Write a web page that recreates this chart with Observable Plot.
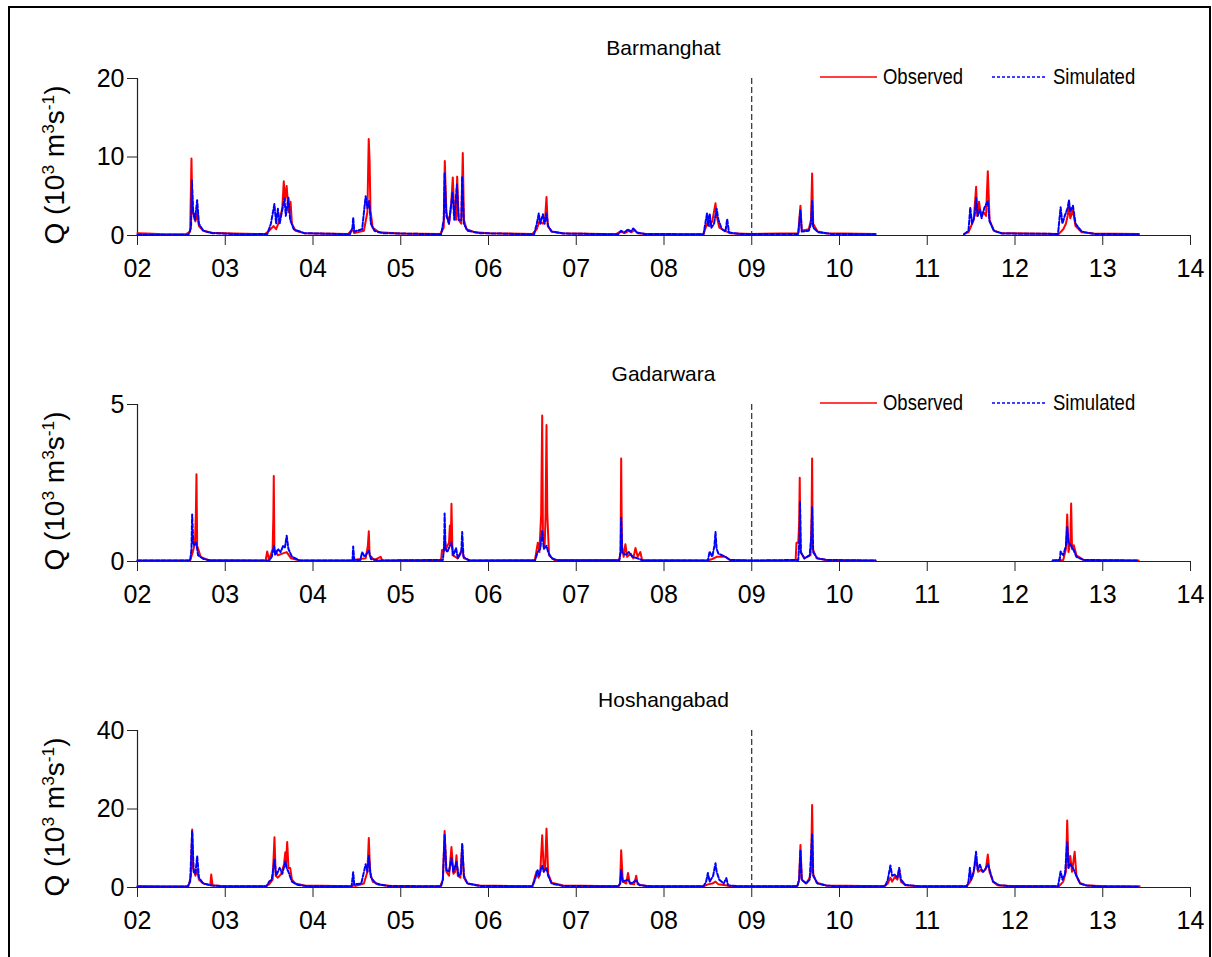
<!DOCTYPE html>
<html><head><meta charset="utf-8">
<script src="https://cdn.jsdelivr.net/npm/d3@7"></script>
<script src="https://cdn.jsdelivr.net/npm/@observablehq/plot@0.6"></script>
<style>
body{margin:0;background:#fff;}
#wrap{position:relative;width:1212px;height:957px;overflow:hidden;font-family:Arial,"Liberation Sans",sans-serif;color:#000;}
#border{position:absolute;left:8px;top:6px;width:1203px;height:1100px;border:2px solid #000;box-sizing:border-box;}
.panel{position:absolute;left:0;width:1212px;height:326px;}
.panel > svg{position:absolute;left:0;top:0;overflow:visible;}
.title{position:absolute;left:137px;width:1053px;text-align:center;font-size:21px;line-height:21px;top:37px;}
.ylab{position:absolute;left:55px;top:165px;transform:translate(-50%,-50%) rotate(-90deg);white-space:nowrap;font-size:28px;line-height:28px;}
.ylab sup{font-size:0.62em;vertical-align:0.6em;line-height:0;}
.lg{position:absolute;top:64px;height:26px;line-height:26px;font-size:22px;white-space:nowrap;}
.lg.txt{transform:scaleX(0.84);transform-origin:0 50%;}
.lg svg{display:block;margin-top:8px;}
</style>
</head><body>
<div id="wrap"><div id="border"></div></div>
<script>
// ---- data ----
const stations = ["Barmanghat", "Gadarwara", "Hoshangabad"];
const xTicks = [2002,2003,2004,2005,2006,2007,2008,2009,2010,2011,2012,2013,2014];
const xLabels = ["02","03","04","05","06","07","08","09","10","11","12","13","14"];
const splitYear = 2009;
const yMax = [20, 5, 40];
const yTicks = [[0,10,20],[0,5],[0,20,40]];
const legendLabels = ["Observed", "Simulated"];

const barmanghatObs = [[2002.00,0.3],[2002.10,0.25],[2002.30,0.15],[2002.55,0.15],[2002.60,0.5],[2002.615,9.8],[2002.625,3.5],[2002.64,2.5],[2002.66,1.8],[2002.68,2.8],[2002.70,1.2],[2002.75,0.6],[2002.85,0.35],[2003.10,0.25],[2003.45,0.15],[2003.50,0.6],[2003.55,1.2],[2003.58,0.8],[2003.62,2.0],[2003.65,3.5],[2003.667,6.9],[2003.68,4.5],[2003.70,6.3],[2003.72,3.0],[2003.744,4.3],[2003.76,1.5],[2003.80,0.6],[2003.90,0.3],[2004.40,0.2],[2004.45,0.8],[2004.47,0.3],[2004.58,0.6],[2004.62,3.0],[2004.635,12.3],[2004.645,9.5],[2004.655,3.2],[2004.68,1.0],[2004.75,0.4],[2005.00,0.25],[2005.45,0.2],[2005.49,1.0],[2005.502,9.5],[2005.52,3.0],[2005.55,1.5],[2005.575,4.0],[2005.593,7.4],[2005.61,2.5],[2005.63,2.0],[2005.643,7.5],[2005.66,2.0],[2005.69,1.5],[2005.707,10.5],[2005.72,2.0],[2005.75,0.8],[2005.85,0.4],[2006.00,0.3],[2006.50,0.2],[2006.55,0.8],[2006.58,1.8],[2006.62,1.5],[2006.645,2.2],[2006.661,4.9],[2006.675,1.2],[2006.72,0.5],[2006.85,0.3],[2007.45,0.15],[2007.50,0.5],[2007.55,0.3],[2007.60,0.6],[2007.63,0.4],[2007.66,0.7],[2007.70,0.3],[2007.80,0.2],[2008.45,0.15],[2008.49,1.5],[2008.52,1.2],[2008.55,1.8],[2008.587,4.1],[2008.60,2.5],[2008.63,1.0],[2008.70,0.6],[2008.75,0.3],[2009.00,0.2],[2009.53,0.3],[2009.555,3.8],[2009.57,0.6],[2009.65,0.8],[2009.675,2.0],[2009.688,7.9],[2009.70,1.5],[2009.75,0.5],[2009.85,0.3],[2010.41,0.2],[2010.42,null],[2011.41,null],[2011.42,0.2],[2011.47,0.4],[2011.50,1.2],[2011.53,2.0],[2011.557,6.2],[2011.57,2.5],[2011.59,4.3],[2011.61,2.8],[2011.64,3.0],[2011.67,2.5],[2011.69,8.2],[2011.71,2.0],[2011.76,0.6],[2011.85,0.3],[2012.50,0.2],[2012.55,0.8],[2012.58,1.5],[2012.60,2.5],[2012.615,3.8],[2012.63,2.2],[2012.66,3.2],[2012.69,1.2],[2012.76,0.4],[2012.90,0.25],[2013.41,0.2]];
const barmanghatSim = [[2002.00,0.1],[2002.58,0.1],[2002.61,1.0],[2002.62,7.0],[2002.635,3.0],[2002.655,2.0],[2002.68,4.5],[2002.70,1.5],[2002.75,0.6],[2002.85,0.3],[2003.20,0.15],[2003.48,0.2],[2003.52,1.5],[2003.56,4.0],[2003.58,1.5],[2003.60,3.4],[2003.62,1.5],[2003.645,3.0],[2003.675,4.7],[2003.69,2.5],[2003.72,4.8],[2003.74,2.0],[2003.78,0.8],[2003.90,0.3],[2004.42,0.15],[2004.45,1.0],[2004.458,2.3],[2004.47,0.5],[2004.56,0.8],[2004.60,5.0],[2004.62,3.5],[2004.64,4.4],[2004.66,1.5],[2004.70,0.6],[2004.80,0.3],[2005.46,0.15],[2005.49,2.0],[2005.50,8.0],[2005.52,2.5],[2005.55,1.5],[2005.59,5.5],[2005.61,2.0],[2005.64,6.5],[2005.66,2.0],[2005.69,2.0],[2005.70,7.5],[2005.72,1.5],[2005.76,0.6],[2005.90,0.3],[2006.52,0.15],[2006.55,1.5],[2006.573,2.8],[2006.59,1.5],[2006.62,2.7],[2006.64,1.5],[2006.66,2.8],[2006.68,1.2],[2006.72,0.5],[2006.85,0.25],[2007.48,0.15],[2007.51,0.6],[2007.55,0.4],[2007.59,0.8],[2007.62,0.5],[2007.65,0.9],[2007.69,0.4],[2007.78,0.2],[2008.45,0.15],[2008.49,2.8],[2008.505,1.2],[2008.52,2.8],[2008.54,1.0],[2008.57,1.5],[2008.60,3.4],[2008.62,2.0],[2008.66,0.8],[2008.70,0.5],[2008.72,2.1],[2008.74,0.4],[2008.85,0.2],[2009.53,0.2],[2009.555,3.2],[2009.57,0.5],[2009.65,0.6],[2009.675,1.5],[2009.688,4.4],[2009.70,1.0],[2009.76,0.4],[2009.90,0.2],[2010.41,0.15],[2010.42,null],[2011.41,null],[2011.42,0.15],[2011.47,0.6],[2011.49,3.6],[2011.51,1.5],[2011.54,2.5],[2011.557,4.8],[2011.575,2.5],[2011.60,3.3],[2011.62,2.2],[2011.65,3.5],[2011.69,4.4],[2011.71,1.8],[2011.76,0.6],[2011.85,0.25],[2012.49,0.2],[2012.52,3.6],[2012.54,1.5],[2012.57,2.6],[2012.60,3.5],[2012.615,4.5],[2012.63,3.0],[2012.66,3.8],[2012.69,1.5],[2012.76,0.5],[2012.90,0.2],[2013.41,0.15]];

const gadarwaraObs = [[2002.00,0.03],[2002.60,0.03],[2002.63,0.3],[2002.655,0.6],[2002.665,1.5],[2002.672,2.78],[2002.68,0.5],[2002.72,0.15],[2002.80,0.05],[2003.46,0.03],[2003.478,0.32],[2003.50,0.05],[2003.54,0.4],[2003.548,1.4],[2003.553,2.72],[2003.56,0.4],[2003.60,0.2],[2003.65,0.25],[2003.70,0.3],[2003.75,0.1],[2003.85,0.03],[2004.45,0.03],[2004.46,0.05],[2004.60,0.1],[2004.625,0.5],[2004.636,0.96],[2004.645,0.2],[2004.70,0.05],[2004.77,0.15],[2004.79,0.03],[2005.46,0.05],[2005.47,0.37],[2005.49,0.3],[2005.50,0.8],[2005.515,0.4],[2005.55,0.6],[2005.56,1.15],[2005.57,0.5],[2005.578,1.84],[2005.59,0.2],[2005.65,0.1],[2005.70,0.4],[2005.72,0.1],[2005.80,0.03],[2006.53,0.05],[2006.55,0.4],[2006.562,0.6],[2006.58,0.3],[2006.60,1.5],[2006.612,4.65],[2006.62,0.9],[2006.64,0.5],[2006.65,1.4],[2006.661,4.35],[2006.67,1.5],[2006.69,0.2],[2006.75,0.05],[2007.49,0.05],[2007.505,0.3],[2007.512,3.28],[2007.52,0.5],[2007.54,0.15],[2007.56,0.55],[2007.58,0.15],[2007.62,0.25],[2007.65,0.1],[2007.675,0.43],[2007.70,0.15],[2007.73,0.3],[2007.75,0.05],[2008.50,0.03],[2008.55,0.08],[2008.60,0.15],[2008.65,0.15],[2008.70,0.15],[2008.75,0.05],[2009.00,0.03],[2009.50,0.03],[2009.51,0.6],[2009.53,0.6],[2009.54,1.2],[2009.547,2.67],[2009.555,0.3],[2009.60,0.1],[2009.67,0.2],[2009.682,1.5],[2009.688,3.28],[2009.695,0.4],[2009.74,0.1],[2009.85,0.05],[2010.41,0.03],[2010.42,null],[2012.42,null],[2012.43,0.03],[2012.55,0.05],[2012.58,0.4],[2012.595,1.5],[2012.61,0.3],[2012.63,0.6],[2012.64,1.85],[2012.65,0.4],[2012.67,0.52],[2012.70,0.2],[2012.78,0.05],[2013.41,0.03]];
const gadarwaraSim = [[2002.00,0.03],[2002.60,0.03],[2002.615,0.4],[2002.623,1.5],[2002.635,0.6],[2002.65,0.5],[2002.67,0.6],[2002.69,0.2],[2002.75,0.08],[2002.85,0.03],[2003.50,0.03],[2003.53,0.15],[2003.555,0.5],[2003.57,0.2],[2003.60,0.4],[2003.63,0.3],[2003.66,0.5],[2003.68,0.45],[2003.70,0.82],[2003.72,0.4],[2003.76,0.15],[2003.85,0.03],[2004.45,0.03],[2004.458,0.48],[2004.47,0.05],[2004.54,0.05],[2004.56,0.3],[2004.59,0.15],[2004.636,0.35],[2004.66,0.08],[2004.75,0.03],[2005.48,0.05],[2005.495,0.5],[2005.50,1.53],[2005.51,0.4],[2005.53,0.3],[2005.56,0.5],[2005.578,0.6],[2005.60,0.2],[2005.63,0.43],[2005.65,0.1],[2005.69,0.3],[2005.70,0.94],[2005.715,0.15],[2005.78,0.03],[2006.53,0.03],[2006.56,0.3],[2006.59,0.4],[2006.612,1.0],[2006.63,0.4],[2006.661,0.5],[2006.68,0.3],[2006.72,0.1],[2006.80,0.03],[2007.49,0.03],[2007.505,0.3],[2007.512,1.39],[2007.525,0.3],[2007.56,0.2],[2007.60,0.3],[2007.64,0.15],[2007.70,0.1],[2007.76,0.03],[2008.50,0.03],[2008.52,0.32],[2008.55,0.15],[2008.575,0.5],[2008.587,0.94],[2008.60,0.4],[2008.62,0.25],[2008.66,0.2],[2008.70,0.15],[2008.75,0.05],[2009.00,0.03],[2009.53,0.05],[2009.545,0.8],[2009.55,1.9],[2009.56,0.3],[2009.60,0.1],[2009.66,0.2],[2009.68,0.8],[2009.688,1.73],[2009.70,0.3],[2009.75,0.1],[2009.85,0.05],[2010.41,0.03],[2010.42,null],[2012.42,null],[2012.43,0.03],[2012.51,0.05],[2012.52,0.32],[2012.55,0.2],[2012.58,0.5],[2012.595,1.1],[2012.61,0.6],[2012.64,0.5],[2012.67,0.35],[2012.70,0.15],[2012.78,0.05],[2013.41,0.03]];

const hoshangabadObs = [[2002.00,0.4],[2002.30,0.3],[2002.58,0.3],[2002.61,3.0],[2002.623,14.8],[2002.635,5.0],[2002.66,3.0],[2002.68,4.5],[2002.70,2.0],[2002.75,1.0],[2002.83,0.6],[2002.84,3.3],[2002.855,0.6],[2002.95,0.4],[2003.45,0.3],[2003.50,0.8],[2003.54,2.0],[2003.561,12.8],[2003.575,3.0],[2003.60,2.5],[2003.64,3.5],[2003.67,6.0],[2003.685,9.0],[2003.69,5.5],[2003.706,11.6],[2003.72,5.0],[2003.74,5.0],[2003.76,2.0],[2003.80,1.0],[2003.90,0.5],[2004.45,0.3],[2004.46,0.8],[2004.48,0.4],[2004.58,1.0],[2004.62,4.0],[2004.636,12.6],[2004.65,4.0],[2004.68,1.5],[2004.75,0.7],[2004.90,0.4],[2005.45,0.3],[2005.48,2.0],[2005.50,14.4],[2005.52,4.0],[2005.55,3.0],[2005.578,10.3],[2005.60,3.5],[2005.62,4.0],[2005.635,8.2],[2005.65,3.0],[2005.68,2.5],[2005.70,10.8],[2005.72,2.5],[2005.76,1.0],[2005.90,0.5],[2006.50,0.3],[2006.547,4.1],[2006.57,2.5],[2006.59,4.0],[2006.612,13.3],[2006.63,4.0],[2006.645,5.0],[2006.661,15.0],[2006.68,3.5],[2006.72,1.2],[2006.85,0.5],[2007.48,0.3],[2007.50,1.0],[2007.512,9.5],[2007.53,1.5],[2007.57,1.0],[2007.59,3.7],[2007.61,1.0],[2007.66,0.8],[2007.683,3.0],[2007.70,0.8],[2007.80,0.4],[2008.45,0.3],[2008.50,0.8],[2008.55,1.0],[2008.587,1.5],[2008.62,0.8],[2008.70,0.6],[2008.75,0.4],[2009.00,0.3],[2009.52,0.4],[2009.54,2.0],[2009.555,10.8],[2009.57,2.0],[2009.62,1.0],[2009.66,2.5],[2009.675,4.0],[2009.688,21.0],[2009.70,3.5],[2009.74,1.2],[2009.85,0.5],[2010.50,0.3],[2010.55,1.0],[2010.58,2.5],[2010.60,1.5],[2010.63,2.7],[2010.66,2.0],[2010.68,4.6],[2010.70,1.5],[2010.75,0.6],[2010.90,0.3],[2011.45,0.3],[2011.49,1.5],[2011.52,3.0],[2011.556,7.3],[2011.58,4.0],[2011.61,4.5],[2011.64,4.0],[2011.67,5.0],[2011.69,8.4],[2011.71,4.0],[2011.75,1.5],[2011.80,0.6],[2011.95,0.4],[2012.50,0.3],[2012.55,1.5],[2012.58,4.0],[2012.595,17.1],[2012.61,5.0],[2012.63,8.0],[2012.65,4.0],[2012.68,9.1],[2012.70,3.0],[2012.74,1.2],[2012.80,0.6],[2012.95,0.4],[2013.42,0.3]];
const hoshangabadSim = [[2002.00,0.2],[2002.57,0.2],[2002.60,1.5],[2002.623,14.4],[2002.64,4.0],[2002.66,3.5],[2002.68,8.0],[2002.70,2.5],[2002.75,1.0],[2002.85,0.5],[2003.00,0.3],[2003.47,0.3],[2003.50,1.5],[2003.53,2.0],[2003.561,7.1],[2003.58,3.0],[2003.62,5.0],[2003.65,3.5],[2003.687,6.7],[2003.70,5.0],[2003.72,4.0],[2003.76,1.5],[2003.82,0.7],[2003.95,0.3],[2004.44,0.3],[2004.458,3.9],[2004.47,0.8],[2004.55,1.0],[2004.60,5.9],[2004.62,4.0],[2004.636,8.1],[2004.66,2.5],[2004.72,1.0],[2004.85,0.4],[2005.46,0.3],[2005.48,2.0],[2005.50,13.4],[2005.52,4.5],[2005.55,4.0],[2005.578,7.5],[2005.60,4.0],[2005.635,6.5],[2005.66,3.0],[2005.685,3.5],[2005.70,11.1],[2005.72,3.0],[2005.76,1.0],[2005.90,0.4],[2006.50,0.3],[2006.53,2.0],[2006.56,4.4],[2006.58,3.0],[2006.60,5.0],[2006.612,5.5],[2006.63,4.0],[2006.66,5.0],[2006.68,3.0],[2006.72,1.0],[2006.85,0.4],[2007.48,0.3],[2007.50,1.0],[2007.512,4.5],[2007.53,1.5],[2007.59,2.0],[2007.62,1.0],[2007.683,1.8],[2007.72,0.6],[2007.85,0.3],[2008.45,0.3],[2008.48,1.5],[2008.50,3.7],[2008.52,1.5],[2008.56,3.0],[2008.587,6.2],[2008.60,4.0],[2008.63,2.0],[2008.68,1.0],[2008.71,2.4],[2008.73,0.6],[2008.85,0.3],[2009.52,0.3],[2009.54,2.0],[2009.555,9.5],[2009.57,2.0],[2009.62,1.0],[2009.66,2.0],[2009.688,13.5],[2009.70,3.0],[2009.75,1.0],[2009.85,0.5],[2009.95,0.3],[2010.52,0.3],[2010.55,2.0],[2010.58,5.6],[2010.60,3.0],[2010.63,3.3],[2010.66,2.5],[2010.68,5.0],[2010.70,2.0],[2010.75,0.7],[2010.90,0.3],[2011.45,0.3],[2011.47,1.5],[2011.486,5.0],[2011.50,2.0],[2011.53,4.0],[2011.556,9.1],[2011.575,4.5],[2011.60,5.8],[2011.63,4.0],[2011.66,4.5],[2011.69,6.0],[2011.71,4.5],[2011.75,1.5],[2011.82,0.6],[2011.95,0.3],[2012.49,0.3],[2012.52,4.1],[2012.54,2.0],[2012.57,3.5],[2012.595,11.5],[2012.61,5.0],[2012.63,6.0],[2012.66,5.0],[2012.68,4.0],[2012.70,3.0],[2012.74,1.0],[2012.82,0.5],[2012.95,0.3],[2013.42,0.2]];

const observed = [barmanghatObs, gadarwaraObs, hoshangabadObs];
const simulated = [barmanghatSim, gadarwaraSim, hoshangabadSim];
const showLegend = [true, true, false];

// ---- drawing ----
const wrap = document.getElementById("wrap");
const PANEL_H = 326;
stations.forEach((name, i) => {
  const panel = document.createElement("div");
  panel.className = "panel";
  panel.style.top = (i * PANEL_H) + "px";
  const svg = Plot.plot({
    width: 1212,
    height: PANEL_H,
    marginLeft: 137,
    marginRight: 22,
    marginTop: 78,
    marginBottom: PANEL_H - 78 - 157,
    style: {fontFamily: "Arial, 'Liberation Sans', sans-serif", fontSize: "25px", background: "transparent", color: "#000"},
    x: {domain: [2002, 2014]},
    y: {domain: [0, yMax[i]]},
    marks: [
      Plot.ruleY([0], {stroke: "#222", strokeWidth: 1.2}),
      Plot.ruleX([2002], {stroke: "#222", strokeWidth: 1.2}),
      Plot.ruleX([splitYear], {stroke: "#000", strokeWidth: 1, strokeDasharray: "6,3"}),
      Plot.axisX({ticks: xTicks, tickFormat: d => xLabels[xTicks.indexOf(d)], tickSize: 10, tickPadding: 14, label: null, stroke: "#222"}),
      Plot.axisY({ticks: yTicks[i], tickFormat: d => String(d), tickSize: 10, tickPadding: 3, label: null, stroke: "#222"}),
      Plot.line(observed[i], {x: d => d[0], y: d => d[1], stroke: "#ff0000", strokeWidth: 2}),
      Plot.line(simulated[i], {x: d => d[0], y: d => d[1], stroke: "#0000ff", strokeWidth: 2, strokeDasharray: "4,2"})
    ]
  });
  panel.appendChild(svg);

  const title = document.createElement("div");
  title.className = "title";
  title.textContent = name;
  panel.appendChild(title);

  const ylab = document.createElement("div");
  ylab.className = "ylab";
  ylab.innerHTML = "Q (10<sup>3</sup> m<sup>3</sup>s<sup>-1</sup>)";
  panel.appendChild(ylab);

  if (showLegend[i]) {
    const items = [
      ['<svg width="58" height="10"><line x1="0" x2="57" y1="5" y2="5" stroke="#ff0000" stroke-width="1.5"/></svg>', 820, ""],
      [legendLabels[0], 883, " txt"],
      ['<svg width="56" height="10"><line x1="0" x2="55" y1="5" y2="5" stroke="#0000ff" stroke-width="1.5" stroke-dasharray="3,2"/></svg>', 992, ""],
      [legendLabels[1], 1053, " txt"]
    ];
    items.forEach(([html, left, cls]) => {
      const el = document.createElement("div");
      el.className = "lg" + cls;
      el.style.left = left + "px";
      el.innerHTML = html;
      panel.appendChild(el);
    });
  }
  wrap.appendChild(panel);
});
</script>
</body></html>
